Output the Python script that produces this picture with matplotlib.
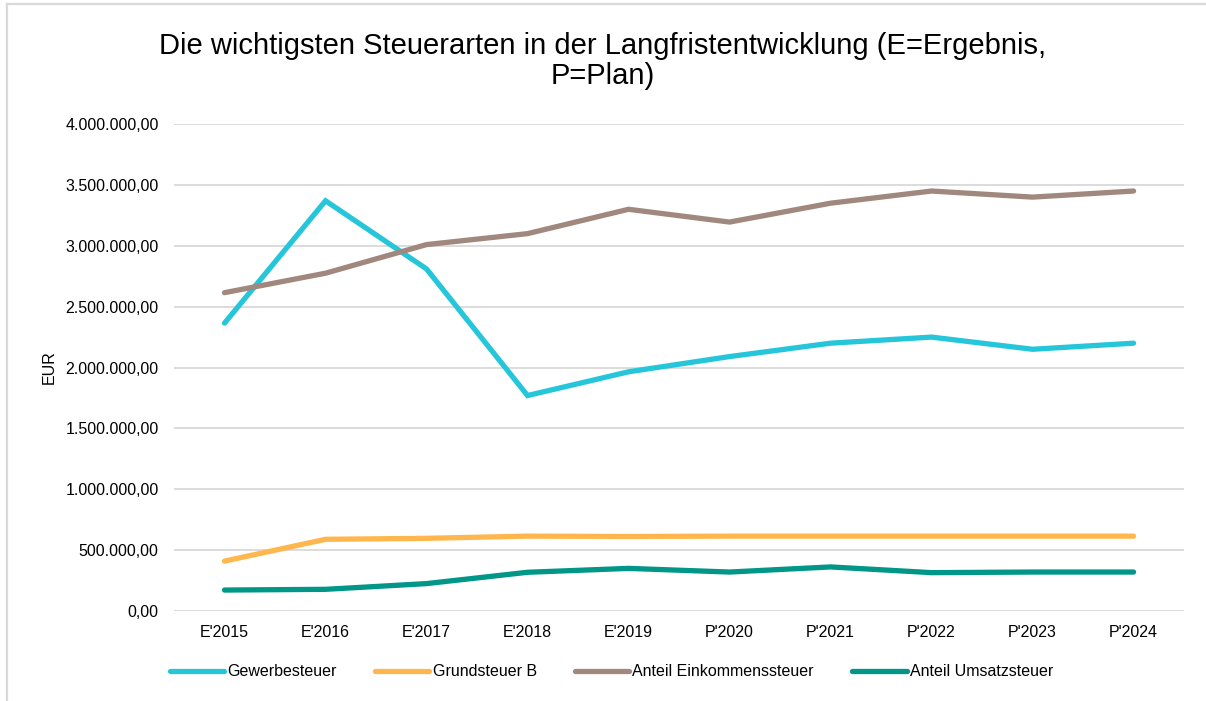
"""Steuerarten Langfristentwicklung – Liniendiagramm"""

import matplotlib
matplotlib.use("Agg")
import matplotlib.pyplot as plt
import matplotlib.ticker as ticker
from matplotlib.lines import Line2D

plt.rcParams["font.family"] = ["Liberation Sans", "DejaVu Sans"]

years = ["E'2015", "E'2016", "E'2017", "E'2018", "E'2019",
         "P'2020", "P'2021", "P'2022", "P'2023", "P'2024"]

gewerbesteuer = [2365000, 3370000, 2810000, 1770000, 1965000,
                 2090000, 2200000, 2250000, 2150000, 2200000]
grundsteuer_b = [410000, 589000, 597000, 615000, 612000,
                 615000, 615000, 615000, 615000, 615000]
einkommensteuer = [2615000, 2775000, 3010000, 3100000, 3300000,
                   3195000, 3350000, 3450000, 3400000, 3450000]
umsatzsteuer = [172000, 178000, 225000, 318000, 350000,
                320000, 362000, 315000, 320000, 320000]

series = [
    ("Gewerbesteuer", gewerbesteuer, "#26C6DA"),
    ("Grundsteuer B", grundsteuer_b, "#FFB74D"),
    ("Anteil Einkommenssteuer", einkommensteuer, "#A1887F"),
    ("Anteil Umsatzsteuer", umsatzsteuer, "#009688"),
]


def de_format(v, pos):
    s = f"{v:,.2f}"
    return s.replace(",", "X").replace(".", ",").replace("X", ".")


fig = plt.figure(figsize=(12.06, 7.01), dpi=100)
ax = fig.add_axes([0.1443, 0.1284, 0.8375, 0.6946])

x = list(range(len(years)))
for name, vals, color in series:
    ax.plot(x, vals, color=color, lw=3.8, label=name,
            solid_capstyle="round", solid_joinstyle="miter")

ax.set_xlim(-0.5, len(years) - 0.5)
ax.set_ylim(0, 4000000)
ax.set_yticks(range(0, 4000001, 500000))
ax.yaxis.set_major_formatter(ticker.FuncFormatter(de_format))
ax.set_xticks(x)
ax.set_xticklabels(years)

for s in ax.spines.values():
    s.set_visible(False)
ax.grid(axis="y", color="#d9d9d9", lw=1.3)
ax.set_axisbelow(True)
ax.tick_params(length=0, labelsize=11.5, colors="#000000")
ax.tick_params(axis="y", pad=11)
ax.tick_params(axis="x", pad=10)

ax.set_ylabel("EUR", fontsize=11.5)
ax.yaxis.set_label_coords(-0.116, 0.5)

fig.text(0.5, 0.913, "Die wichtigsten Steuerarten in der Langfristentwicklung (E=Ergebnis,\nP=Plan)",
         ha="center", va="center", fontsize=21, linespacing=1.1)

fig.legend(loc="center", bbox_to_anchor=(0.507, 1 - 672 / 701), ncol=4, frameon=False,
           fontsize=11.5, handlelength=3.4, columnspacing=2.4, handletextpad=0.2)

# Rahmen oben und links
fig.add_artist(Line2D([0.006, 1.0], [0.994, 0.994], color="#d9d9d9", lw=1.6,
                      transform=fig.transFigure))
fig.add_artist(Line2D([0.006, 0.006], [0.0, 0.994], color="#d9d9d9", lw=1.6,
                      transform=fig.transFigure))

fig.savefig("out.png", dpi=100)
